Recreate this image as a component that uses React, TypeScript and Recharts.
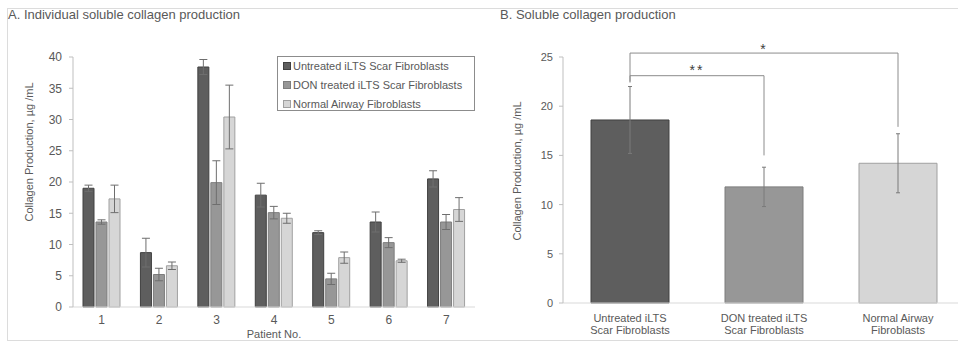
import React from 'react';
import { BarChart, Bar, XAxis, YAxis, ErrorBar, Cell, ReferenceLine } from 'recharts';

// Panel A: per-patient soluble collagen (µg/mL), mean and error
const patients = ['1', '2', '3', '4', '5', '6', '7'];
const untreated = [19.0, 8.7, 38.4, 17.9, 11.9, 13.6, 20.5];
const untreatedErr = [0.5, 2.3, 1.2, 1.9, 0.3, 1.6, 1.3];
const donTreated = [13.6, 5.2, 19.9, 15.1, 4.5, 10.3, 13.6];
const donTreatedErr = [0.35, 1.0, 3.5, 1.0, 0.9, 0.8, 1.2];
const normal = [17.3, 6.6, 30.4, 14.2, 7.9, 7.4, 15.6];
const normalErr = [2.2, 0.6, 5.1, 0.8, 0.9, 0.25, 1.9];
const yTicksA = [0, 5, 10, 15, 20, 25, 30, 35, 40];

// Panel B: pooled means
const groups = ['Untreated iLTS Scar Fibroblasts', 'DON treated iLTS Scar Fibroblasts', 'Normal Airway Fibroblasts'];
const groupLines = [['Untreated iLTS', 'Scar Fibroblasts'], ['DON treated iLTS', 'Scar Fibroblasts'], ['Normal Airway', 'Fibroblasts']];
const groupMeans = [18.6, 11.8, 14.2];
const groupErr = [3.4, 2.0, 3.0];
const yTicksB = [0, 5, 10, 15, 20, 25];

// significance brackets: [from group, to group, bar level, left drop, right drop, mark]
const brackets: [number, number, number, number, number, string][] = [
  [0, 2, 25.4, 22.4, 17.9, '*'],
  [0, 1, 23.1, 22.5, 15.0, '**'],
];

const fills = ['#5e5e5e', '#979797', '#d6d6d6'];
const strokes = ['#404040', '#7d7d7d', '#a0a0a0'];
const textColor = '#595959';
const font = '"Liberation Sans", Arial, sans-serif';

const patientData = patients.map((p, i) => ({
  patient: p,
  untreated: untreated[i],
  untreatedErr: untreatedErr[i],
  donTreated: donTreated[i],
  donTreatedErr: donTreatedErr[i],
  normal: normal[i],
  normalErr: normalErr[i],
}));

const groupData = groups.map((g, i) => ({ group: g, mean: groupMeans[i], err: groupErr[i] }));

const PatientTick = (props: any) => {
  const { x, y, payload } = props;
  return (
    <text x={x} y={y + 9} textAnchor="middle" fill={textColor} fontSize={12} fontFamily={font}>
      {payload.value}
    </text>
  );
};

const GroupTick = (props: any) => {
  const { x, y, payload } = props;
  const lines = groupLines[groups.indexOf(payload.value)] || [payload.value];
  return (
    <text x={x} y={y + 11} textAnchor="middle" fill={textColor} fontSize={11} fontFamily={font}>
      {lines.map((l, i) => (
        <tspan key={i} x={x} dy={i === 0 ? 0 : 12}>{l}</tspan>
      ))}
    </text>
  );
};

const YTitle = (props: any) => {
  const { viewBox, dx = 0, dy = 0 } = props;
  const cx = viewBox.x + dx;
  const cy = viewBox.y + viewBox.height / 2 + dy;
  return (
    <text x={cx} y={cy} transform={`rotate(-90 ${cx} ${cy})`} textAnchor="middle" dominantBaseline="middle"
      fill={textColor} fontSize={11} fontFamily={font}>
      Collagen Production, µg /mL
    </text>
  );
};

const keys = ['untreated', 'donTreated', 'normal'];

export default function App() {
  return (
    <div style={{ position: 'absolute', left: 0, top: 0, width: 958, height: 343, overflow: 'hidden', background: '#fff', fontFamily: font }}>
      <div style={{ position: 'absolute', left: 7, top: 8, width: 960, height: 331, border: '1px solid #dcdcdc' }} />
      <div style={{ position: 'absolute', left: 8, top: 7, fontSize: 13, color: textColor }}>A. Individual soluble collagen production</div>
      <div style={{ position: 'absolute', left: 500, top: 7, fontSize: 13, color: textColor }}>B. Soluble collagen production</div>

      <div style={{ position: 'absolute', left: 0, top: 0 }}>
        <BarChart width={480} height={343} data={patientData} margin={{ top: 57, right: 5, left: 43, bottom: 6 }}
          barCategoryGap={10} barGap={2}>
          <XAxis dataKey="patient" height={30} interval={0} tickLine={false} axisLine={{ stroke: '#d9d9d9' }}
            tick={<PatientTick />}
            label={{ value: 'Patient No.', position: 'insideBottom', offset: -1, fill: textColor, fontSize: 11, fontFamily: font }} />
          <YAxis width={30} domain={[0, 40]} ticks={yTicksA} interval={0} tickSize={4} tickMargin={7}
            axisLine={{ stroke: '#bfbfbf' }} tickLine={{ stroke: '#bfbfbf' }}
            tick={{ fill: textColor, fontSize: 12, fontFamily: font }}
            label={<YTitle dx={-13} dy={-30} />} />
          {keys.map((k, i) => (
            <Bar key={k} dataKey={k} fill={fills[i]} stroke={strokes[i]} strokeWidth={1} isAnimationActive={false}>
              <ErrorBar dataKey={`${k}Err`} width={4} stroke="#6e6e6e" strokeWidth={1} />
            </Bar>
          ))}
        </BarChart>
      </div>

      <div style={{ position: 'absolute', left: 277, top: 56, width: 196, height: 53, border: '1px solid #8c8c8c', background: '#fff' }}>
        {groups.map((g, i) => (
          <div key={g} style={{ position: 'absolute', left: 5, top: 2 + i * 19, height: 14, display: 'flex', alignItems: 'center', fontSize: 11, color: textColor, whiteSpace: 'nowrap' }}>
            <span style={{ display: 'inline-block', width: 6, height: 6, background: fills[i], border: `1px solid ${strokes[i]}`, marginRight: 2 }} />
            {g}
          </div>
        ))}
      </div>

      <div style={{ position: 'absolute', left: 480, top: 0 }}>
        <BarChart width={490} height={343} data={groupData} margin={{ top: 57, right: 5, left: 53, bottom: 4 }}
          barCategoryGap={28}>
          <XAxis dataKey="group" height={36} interval={0} tickLine={false} axisLine={{ stroke: '#d9d9d9' }}
            tick={<GroupTick />} />
          <YAxis width={30} domain={[0, 25]} ticks={yTicksB} interval={0} tickSize={4} tickMargin={6}
            axisLine={{ stroke: '#bfbfbf' }} tickLine={{ stroke: '#bfbfbf' }}
            tick={{ fill: textColor, fontSize: 11, fontFamily: font }}
            label={<YTitle dx={-15} dy={-9} />} />
          <Bar dataKey="mean" isAnimationActive={false} strokeWidth={1}>
            {groupData.map((d, i) => (
              <Cell key={d.group} fill={fills[i]} stroke={strokes[i]} />
            ))}
            <ErrorBar dataKey="err" width={2} stroke="#7a7a7a" strokeWidth={1} />
          </Bar>
          {brackets.map(([a, b, level, leftEnd, rightEnd, mark]) => (
            <React.Fragment key={mark}>
              <ReferenceLine ifOverflow="visible" stroke="#8c8c8c" strokeWidth={1}
                segment={[{ x: groups[a], y: level }, { x: groups[b], y: level }]}
                label={{ value: mark, position: 'top', offset: mark === '*' ? -1 : 1, fill: '#404040', fontSize: 14, fontFamily: font, letterSpacing: 2 }} />
              <ReferenceLine ifOverflow="visible" stroke="#8c8c8c" strokeWidth={1}
                segment={[{ x: groups[a], y: level }, { x: groups[a], y: leftEnd }]} />
              <ReferenceLine ifOverflow="visible" stroke="#8c8c8c" strokeWidth={1}
                segment={[{ x: groups[b], y: level }, { x: groups[b], y: rightEnd }]} />
            </React.Fragment>
          ))}
        </BarChart>
      </div>
    </div>
  );
}
